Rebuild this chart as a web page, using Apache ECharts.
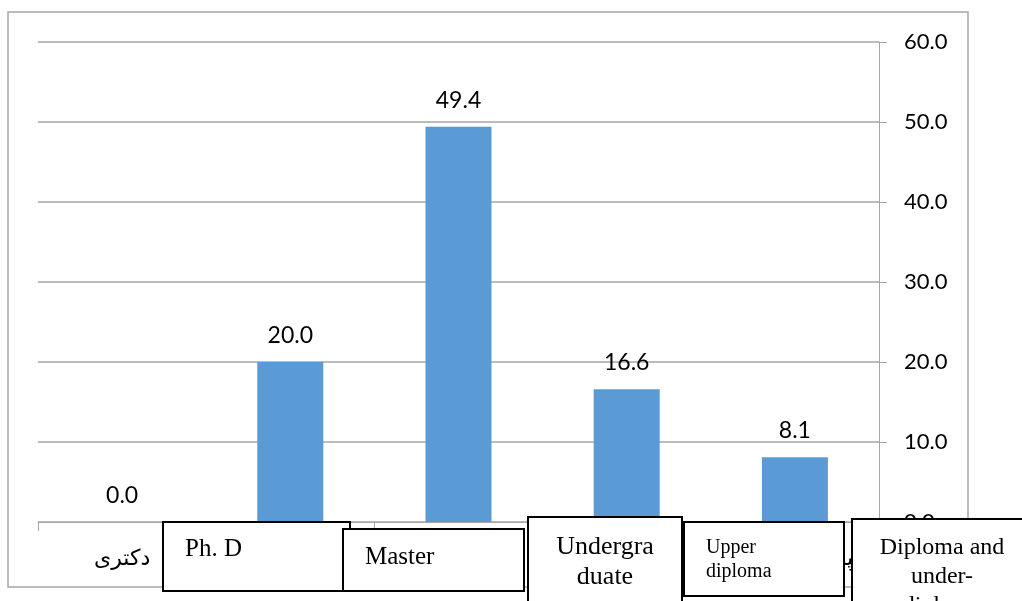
<!DOCTYPE html>
<html>
<head>
<meta charset="utf-8">
<script src="https://cdn.jsdelivr.net/npm/echarts@6/dist/echarts.min.js"></script>
<style>
  html, body { margin: 0; padding: 0; background: #ffffff; }
  #chart { width: 1022px; height: 601px; }
</style>
</head>
<body>
<div id="chart"></div>
<script>
// Education level of respondents (percent)
const categories = ['دکتری', 'کارشناسی ارشد', 'کارشناسی', 'فوق دیپلم', 'دیپلم و زیر دیپلم'];
const percentValues = [0.0, 20.0, 49.4, 16.6, 8.1];
const yTicks = { min: 0, max: 60, interval: 10 };

// English captions laid over the category labels
const captionBoxes = [
  { text: 'Ph. D', x: 163, y: 522, w: 187, h: 69, tx: 185, ty: 549, size: 25, align: 'left', lh: 28 },
  { text: 'Master', x: 343, y: 529, w: 181, h: 62, tx: 365, ty: 557, size: 25, align: 'left', lh: 28 },
  { text: 'Undergra\nduate', x: 528, y: 517, w: 154, h: 100, tx: 605, ty: 562, size: 26, align: 'center', lh: 30 },
  { text: 'Upper\ndiploma', x: 684, y: 522, w: 160, h: 74, tx: 706, ty: 560, size: 20, align: 'left', lh: 24 },
  { text: 'Diploma and\nunder-\ndiploma', x: 852, y: 519, w: 190, h: 100, tx: 942, ty: 577, size: 24, align: 'center', lh: 29 }
];

const gridColor = '#a6a6a6';
const graphics = [
  {
    type: 'rect', z: 0, silent: true,
    shape: { x: 8, y: 12, width: 960, height: 575 },
    style: { fill: 'none', stroke: '#a6a6a6', lineWidth: 1.5 }
  }
];
captionBoxes.forEach(function (b, i) {
  graphics.push({
    type: 'rect', z: 100 + i * 2, silent: true,
    shape: { x: b.x, y: b.y, width: b.w, height: b.h },
    style: { fill: '#ffffff', stroke: '#000000', lineWidth: 2 }
  });
  graphics.push({
    type: 'text', z: 101 + i * 2, silent: true,
    x: b.tx, y: b.ty,
    style: {
      text: b.text,
      font: b.size + 'px "Liberation Serif", "Times New Roman", serif',
      fill: '#000000',
      textAlign: b.align,
      textVerticalAlign: 'middle',
      lineHeight: b.lh
    }
  });
});

const chart = echarts.init(document.getElementById('chart'), null, { renderer: 'canvas' });
chart.setOption({
  backgroundColor: '#ffffff',
  animation: false,
  grid: { left: 38, right: 143, top: 42, bottom: 79, containLabel: false },
  xAxis: {
    type: 'category',
    data: categories,
    axisLine: { show: true, lineStyle: { color: gridColor, width: 1 } },
    axisTick: { show: true, alignWithLabel: false, interval: 0, length: 9, lineStyle: { color: gridColor } },
    axisLabel: {
      interval: 0,
      margin: 26,
      color: '#000000',
      fontFamily: '"DejaVu Sans", sans-serif',
      fontSize: 22
    }
  },
  yAxis: {
    type: 'value',
    position: 'right',
    min: yTicks.min,
    max: yTicks.max,
    interval: yTicks.interval,
    axisLine: { show: true, lineStyle: { color: gridColor, width: 1 } },
    axisTick: { show: true, inside: false, length: 8, lineStyle: { color: gridColor } },
    splitLine: { show: true, lineStyle: { color: gridColor, width: 1.5 } },
    axisLabel: {
      margin: 25,
      color: '#000000',
      fontFamily: 'Lato, "Open Sans", sans-serif',
      fontSize: 22,
      formatter: function (v) { return v.toFixed(1); }
    }
  },
  series: [{
    type: 'bar',
    data: percentValues,
    barWidth: 66,
    itemStyle: { color: '#5b9bd5' },
    label: {
      show: true,
      position: 'top',
      distance: 15,
      color: '#000000',
      fontFamily: 'Lato, "Open Sans", sans-serif',
      fontSize: 23,
      formatter: function (p) { return p.value.toFixed(1); }
    }
  }],
  graphic: graphics
});
</script>
</body>
</html>
